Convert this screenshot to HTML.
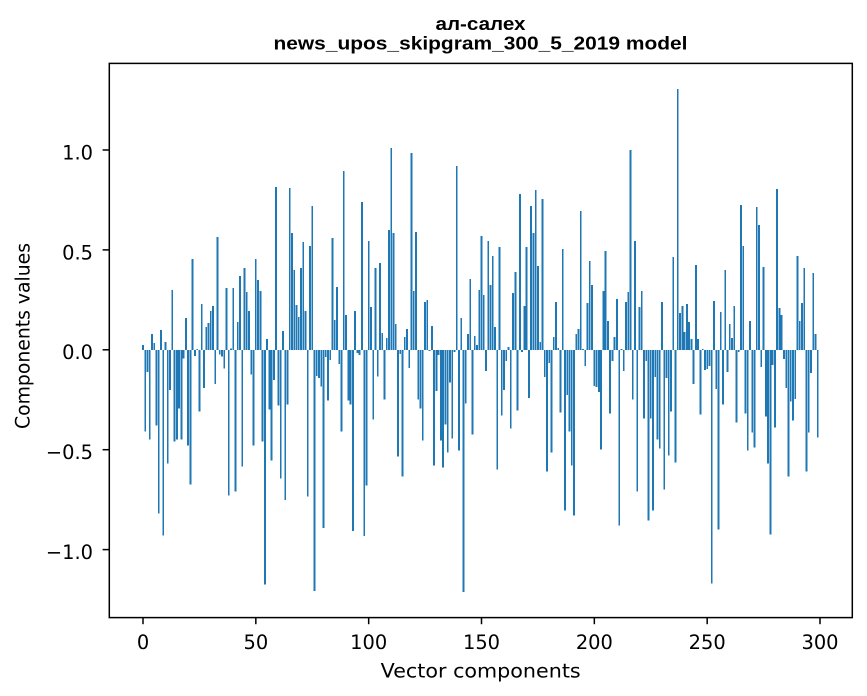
<!DOCTYPE html>
<html>
<head>
<meta charset="utf-8">
<style>
html,body{margin:0;padding:0;background:#fff;}
svg{display:block;}
.tick{font-family:"DejaVu Sans","Liberation Sans",sans-serif;font-size:19.4px;fill:#000;}
.lab{font-family:"DejaVu Sans","Liberation Sans",sans-serif;font-size:19.4px;fill:#000;}
.title{font-family:"Liberation Sans","DejaVu Sans",sans-serif;font-size:18px;font-weight:bold;fill:#000;}
</style>
</head>
<body>
<svg width="867" height="696" viewBox="0 0 867 696" xmlns="http://www.w3.org/2000/svg">
<rect x="0" y="0" width="867" height="696" fill="#fff"/>
<g transform="translate(143,349.8) scale(2.2567,-199.8)">
<path fill="#1f77b4" shape-rendering="crispEdges" d="M-.4 0h.8v.025h-.8z m1 0h.8v-.41h-.8z m1 0h.8v-.11h-.8z m1 0h.8v-.45h-.8z m1 0h.8v.08h-.8z m1 0h.8v.033h-.8z m1 0h.8v-.38h-.8z m1 0h.8v-.82h-.8z m1 0h.8v.1h-.8z m1 0h.8v-.93h-.8z
m1 0h.8v.04h-.8z m1 0h.8v-.57h-.8z m1 0h.8v-.2h-.8z m1 0h.8v.3h-.8z m1 0h.8v-.46h-.8z m1 0h.8v-.45h-.8z m1 0h.8v-.295h-.8z m1 0h.8v-.45h-.8z m1 0h.8v-.043h-.8z m1 0h.8v.16h-.8z
m1 0h.8v-.48h-.8z m1 0h.8v-.675h-.8z m1 0h.8v.455h-.8z m1 0h.8v-.03h-.8z m1 0h.8v.005h-.8z m1 0h.8v-.31h-.8z m1 0h.8v.23h-.8z m1 0h.8v-.19h-.8z m1 0h.8v.115h-.8z m1 0h.8v.135h-.8z
m1 0h.8v.195h-.8z m1 0h.8v.22h-.8z m1 0h.8v-.17h-.8z m1 0h.8v.565h-.8z m1 0h.8v-.023h-.8z m1 0h.8v-.033h-.8z m1 0h.8v-.093h-.8z m1 0h.8v.31h-.8z m1 0h.8v-.73h-.8z m1 0h.8v.007h-.8z
m1 0h.8v.31h-.8z m1 0h.8v-.71h-.8z m1 0h.8v.14h-.8z m1 0h.8v.37h-.8z m1 0h.8v-.585h-.8z m1 0h.8v.41h-.8z m1 0h.8v.29h-.8z m1 0h.8v.195h-.8z m1 0h.8v-.123h-.8z m1 0h.8v-.48h-.8z
m1 0h.8v.455h-.8z m1 0h.8v.35h-.8z m1 0h.8v.295h-.8z m1 0h.8v-.46h-.8z m1 0h.8v-1.175h-.8z m1 0h.8v.055h-.8z m1 0h.8v-.3h-.8z m1 0h.8v-.553h-.8z m1 0h.8v-.15h-.8z m1 0h.8v.815h-.8z
m1 0h.8v-.28h-.8z m1 0h.8v-.643h-.8z m1 0h.8v.095h-.8z m1 0h.8v-.753h-.8z m1 0h.8v-.275h-.8z m1 0h.8v.81h-.8z m1 0h.8v.585h-.8z m1 0h.8v.4h-.8z m1 0h.8v.225h-.8z m1 0h.8v.165h-.8z
m1 0h.8v.41h-.8z m1 0h.8v.54h-.8z m1 0h.8v.195h-.8z m1 0h.8v-.733h-.8z m1 0h.8v.52h-.8z m1 0h.8v.72h-.8z m1 0h.8v-1.208h-.8z m1 0h.8v-.13h-.8z m1 0h.8v-.14h-.8z m1 0h.8v-.183h-.8z
m1 0h.8v-.893h-.8z m1 0h.8v-.035h-.8z m1 0h.8v-.255h-.8z m1 0h.8v-.05h-.8z m1 0h.8v.56h-.8z m1 0h.8v.15h-.8z m1 0h.8v.315h-.8z m1 0h.8v-.07h-.8z m1 0h.8v-.41h-.8z m1 0h.8v.895h-.8z
m1 0h.8v.175h-.8z m1 0h.8v-.255h-.8z m1 0h.8v-.275h-.8z m1 0h.8v-.908h-.8z m1 0h.8v.195h-.8z m1 0h.8v-.015h-.8z m1 0h.8v-.025h-.8z m1 0h.8v.74h-.8z m1 0h.8v-.933h-.8z m1 0h.8v-.678h-.8z
m1 0h.8v.545h-.8z m1 0h.8v.215h-.8z m1 0h.8v-.35h-.8z m1 0h.8v.41h-.8z m1 0h.8v-.133h-.8z m1 0h.8v.435h-.8z m1 0h.8v.085h-.8z m1 0h.8v-.25h-.8z m1 0h.8v.06h-.8z m1 0h.8v.6h-.8z
m1 0h.8v1.01h-.8z m1 0h.8v.585h-.8z m1 0h.8v.13h-.8z m1 0h.8v-.533h-.8z m1 0h.8v-.02h-.8z m1 0h.8v-.633h-.8z m1 0h.8v.065h-.8z m1 0h.8v.105h-.8z m1 0h.8v-.09h-.8z m1 0h.8v.985h-.8z
m1 0h.8v.295h-.8z m1 0h.8v.59h-.8z m1 0h.8v-.25h-.8z m1 0h.8v-.295h-.8z m1 0h.8v-.453h-.8z m1 0h.8v.24h-.8z m1 0h.8v.25h-.8z m1 0h.8v-.005h-.8z m1 0h.8v.12h-.8z m1 0h.8v-.578h-.8z
m1 0h.8v-.205h-.8z m1 0h.8v-.025h-.8z m1 0h.8v-.453h-.8z m1 0h.8v-.588h-.8z m1 0h.8v-.375h-.8z m1 0h.8v-.513h-.8z m1 0h.8v-.163h-.8z m1 0h.8v-.443h-.8z m1 0h.8v-.01h-.8z m1 0h.8v.92h-.8z
m1 0h.8v-.503h-.8z m1 0h.8v.16h-.8z m1 0h.8v-1.213h-.8z m1 0h.8v-.268h-.8z m1 0h.8v.08h-.8z m1 0h.8v.355h-.8z m1 0h.8v-.423h-.8z m1 0h.8v.07h-.8z m1 0h.8v.025h-.8z m1 0h.8v.3h-.8z
m1 0h.8v.57h-.8z m1 0h.8v.275h-.8z m1 0h.8v-.105h-.8z m1 0h.8v.545h-.8z m1 0h.8v.325h-.8z m1 0h.8v.47h-.8z m1 0h.8v.115h-.8z m1 0h.8v-.6h-.8z m1 0h.8v.515h-.8z m1 0h.8v-.33h-.8z
m1 0h.8v-.2h-.8z m1 0h.8v-.055h-.8z m1 0h.8v.015h-.8z m1 0h.8v-.395h-.8z m1 0h.8v.285h-.8z m1 0h.8v.39h-.8z m1 0h.8v-.305h-.8z m1 0h.8v.78h-.8z m1 0h.8v-.01h-.8z m1 0h.8v.22h-.8z
m1 0h.8v.515h-.8z m1 0h.8v-.24h-.8z m1 0h.8v.72h-.8z m1 0h.8v.585h-.8z m1 0h.8v.8h-.8z m1 0h.8v.42h-.8z m1 0h.8v.04h-.8z m1 0h.8v.755h-.8z m1 0h.8v-.135h-.8z m1 0h.8v-.61h-.8z
m1 0h.8v-.065h-.8z m1 0h.8v-.515h-.8z m1 0h.8v.065h-.8z m1 0h.8v.24h-.8z m1 0h.8v.01h-.8z m1 0h.8v-.315h-.8z m1 0h.8v.505h-.8z m1 0h.8v-.805h-.8z m1 0h.8v-.225h-.8z m1 0h.8v-.41h-.8z
m1 0h.8v-.58h-.8z m1 0h.8v-.83h-.8z m1 0h.8v.08h-.8z m1 0h.8v.105h-.8z m1 0h.8v.695h-.8z m1 0h.8v.004h-.8z m1 0h.8v-.08h-.8z m1 0h.8v.235h-.8z m1 0h.8v.445h-.8z m1 0h.8v.325h-.8z
m1 0h.8v-.18h-.8z m1 0h.8v-.185h-.8z m1 0h.8v-.21h-.8z m1 0h.8v-.5h-.8z m1 0h.8v.295h-.8z m1 0h.8v.495h-.8z m1 0h.8v.145h-.8z m1 0h.8v-.32h-.8z m1 0h.8v-.055h-.8z m1 0h.8v.065h-.8z
m1 0h.8v.255h-.8z m1 0h.8v-.88h-.8z m1 0h.8v.004h-.8z m1 0h.8v-.105h-.8z m1 0h.8v.24h-.8z m1 0h.8v.29h-.8z m1 0h.8v1h-.8z m1 0h.8v-.25h-.8z m1 0h.8v.545h-.8z m1 0h.8v-.71h-.8z
m1 0h.8v.215h-.8z m1 0h.8v.295h-.8z m1 0h.8v-.345h-.8z m1 0h.8v-.055h-.8z m1 0h.8v-.855h-.8z m1 0h.8v-.345h-.8z m1 0h.8v-.805h-.8z m1 0h.8v-.135h-.8z m1 0h.8v-.45h-.8z m1 0h.8v-.495h-.8z
m1 0h.8v.24h-.8z m1 0h.8v-.7h-.8z m1 0h.8v-.14h-.8z m1 0h.8v-.53h-.8z m1 0h.8v-.31h-.8z m1 0h.8v.465h-.8z m1 0h.8v-.565h-.8z m1 0h.8v1.305h-.8z m1 0h.8v.185h-.8z m1 0h.8v.22h-.8z
m1 0h.8v.09h-.8z m1 0h.8v.23h-.8z m1 0h.8v.14h-.8z m1 0h.8v.055h-.8z m1 0h.8v-.17h-.8z m1 0h.8v.425h-.8z m1 0h.8v.055h-.8z m1 0h.8v-.325h-.8z m1 0h.8v.005h-.8z m1 0h.8v-.1h-.8z
m1 0h.8v-.095h-.8z m1 0h.8v-.08h-.8z m1 0h.8v-1.17h-.8z m1 0h.8v.245h-.8z m1 0h.8v-.195h-.8z m1 0h.8v-.9h-.8z m1 0h.8v.19h-.8z m1 0h.8v-.275h-.8z m1 0h.8v.4h-.8z m1 0h.8v-.11h-.8z
m1 0h.8v.13h-.8z m1 0h.8v.06h-.8z m1 0h.8v.22h-.8z m1 0h.8v-.365h-.8z m1 0h.8v-.01h-.8z m1 0h.8v.725h-.8z m1 0h.8v.52h-.8z m1 0h.8v-.32h-.8z m1 0h.8v-.505h-.8z m1 0h.8v.145h-.8z
m1 0h.8v-.415h-.8z m1 0h.8v-.49h-.8z m1 0h.8v.715h-.8z m1 0h.8v.625h-.8z m1 0h.8v-.085h-.8z m1 0h.8v.415h-.8z m1 0h.8v-.335h-.8z m1 0h.8v-.57h-.8z m1 0h.8v-.925h-.8z m1 0h.8v-.075h-.8z
m1 0h.8v-.39h-.8z m1 0h.8v.805h-.8z m1 0h.8v.21h-.8z m1 0h.8v.175h-.8z m1 0h.8v-.045h-.8z m1 0h.8v-.19h-.8z m1 0h.8v-.635h-.8z m1 0h.8v-.26h-.8z m1 0h.8v-.355h-.8z m1 0h.8v-.245h-.8z
m1 0h.8v.47h-.8z m1 0h.8v.145h-.8z m1 0h.8v.235h-.8z m1 0h.8v.41h-.8z m1 0h.8v-.61h-.8z m1 0h.8v-.415h-.8z m1 0h.8v-.115h-.8z m1 0h.8v.385h-.8z m1 0h.8v.08h-.8z m1 0h.8v-.44h-.8z"/>
</g>

<!-- spines -->
<rect x="109.3" y="63.4" width="743" height="554.2" fill="none" stroke="#000" stroke-width="1.5"/>

<!-- x ticks -->
<g stroke="#000" stroke-width="1.5">
<line x1="143" y1="617.5" x2="143" y2="624.2"/>
<line x1="255.83" y1="617.5" x2="255.83" y2="624.2"/>
<line x1="368.67" y1="617.5" x2="368.67" y2="624.2"/>
<line x1="481.5" y1="617.5" x2="481.5" y2="624.2"/>
<line x1="594.33" y1="617.5" x2="594.33" y2="624.2"/>
<line x1="707.17" y1="617.5" x2="707.17" y2="624.2"/>
<line x1="820" y1="617.5" x2="820" y2="624.2"/>
<!-- y ticks -->
<line x1="102.6" y1="150" x2="109.3" y2="150"/>
<line x1="102.6" y1="249.9" x2="109.3" y2="249.9"/>
<line x1="102.6" y1="349.8" x2="109.3" y2="349.8"/>
<line x1="102.6" y1="449.7" x2="109.3" y2="449.7"/>
<line x1="102.6" y1="549.6" x2="109.3" y2="549.6"/>
</g>

<g class="tick" text-anchor="middle">
<text x="143" y="649">0</text>
<text x="255.83" y="649">50</text>
<text x="368.67" y="649">100</text>
<text x="481.5" y="649">150</text>
<text x="594.33" y="649">200</text>
<text x="707.17" y="649">250</text>
<text x="820" y="649">300</text>
</g>
<g class="tick" text-anchor="end">
<text x="93" y="159.4">1.0</text>
<text x="93" y="259.3">0.5</text>
<text x="93" y="359.2">0.0</text>
<text x="93" y="459.1">−0.5</text>
<text x="93" y="559">−1.0</text>
</g>

<text class="lab" x="480.7" y="677.7" text-anchor="middle" textLength="200" lengthAdjust="spacingAndGlyphs">Vector components</text>
<text class="lab" transform="translate(29.5,336) rotate(-90)" x="0" y="0" text-anchor="middle" textLength="186" lengthAdjust="spacingAndGlyphs">Components values</text>

<text class="title" x="480.5" y="30" text-anchor="middle" textLength="90" lengthAdjust="spacingAndGlyphs">ал-салех</text>
<text class="title" x="480.5" y="49.3" text-anchor="middle" textLength="414" lengthAdjust="spacingAndGlyphs">news_upos_skipgram_300_5_2019 model</text>
</svg>
</body>
</html>
